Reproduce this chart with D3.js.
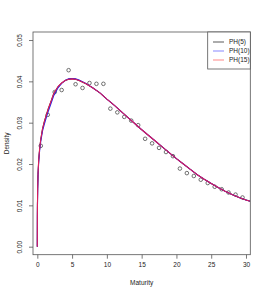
<!DOCTYPE html>
<html><head><meta charset="utf-8">
<script src="https://cdn.jsdelivr.net/npm/d3@7"></script>
<style>body{margin:0;background:#fff}svg{display:block}text{font-family:"Liberation Sans",Arial,sans-serif;fill:#222}</style>
</head><body><svg id="c" width="267" height="296"></svg>
<script>
// empirical points
const obsX = [0.5,1.5,2.5,3.5,4.5,5.5,6.5,7.5,8.5,9.5,10.5,11.5,12.5,13.5,14.5,15.5,16.5,17.5,18.5,19.5,20.5,21.5,22.5,23.5,24.5,25.5,26.5,27.5,28.5,29.5];
const obsY = [0.0244,0.0319,0.0374,0.0379,0.0427,0.0393,0.0384,0.0396,0.0394,0.0394,0.0334,0.0325,0.0314,0.0305,0.0294,0.0261,0.0250,0.0239,0.0229,0.0219,0.0189,0.0178,0.0171,0.0162,0.0154,0.0145,0.0139,0.0131,0.0126,0.0119];
// fitted densities
const curveX  = [0,0.01,0.02,0.05,0.1,0.2,0.35,0.5,0.75,1,1.3,1.6,2,2.35,3,3.5,4,4.5,5,5.5,6,7,8,9,10,11,12,13,14,14.8,16,17,18,19,20,21,22,23,24,25,26,27,28,29,30,30.6];
const ph5     = [0,0.0075,0.0100,0.0140,0.0175,0.0210,0.0240,0.0260,0.0285,0.0302,0.0319,0.0335,0.0353,0.0370,0.0388,0.0396,0.0402,0.0405,0.0406,0.0405,0.0402,0.0394,0.0384,0.0372,0.0357,0.0343,0.0328,0.0313,0.0298,0.0286,0.0269,0.0255,0.0241,0.0227,0.0213,0.0200,0.0187,0.0174,0.0163,0.0153,0.0143,0.0134,0.0126,0.0119,0.0113,0.0110];
const ph10    = [0,0.0070,0.0095,0.0135,0.0170,0.0205,0.0236,0.0255,0.0280,0.0296,0.0313,0.0329,0.0348,0.0365,0.0385,0.0395,0.0402,0.0406,0.0407,0.0406,0.0403,0.0395,0.0384,0.0372,0.0357,0.0343,0.0328,0.0313,0.0298,0.0286,0.0269,0.0255,0.0241,0.0227,0.0213,0.0200,0.0187,0.0174,0.0163,0.0153,0.0143,0.0134,0.0126,0.0119,0.0113,0.0110];
const ph15    = [0,0.0075,0.0100,0.0140,0.0175,0.0210,0.0240,0.0260,0.0285,0.0302,0.0319,0.0335,0.0353,0.0370,0.0388,0.0396,0.0402,0.0405,0.0406,0.0405,0.0402,0.0394,0.0384,0.0372,0.0357,0.0343,0.0328,0.0313,0.0298,0.0286,0.0269,0.0255,0.0241,0.0227,0.0213,0.0200,0.0187,0.0174,0.0163,0.0153,0.0143,0.0134,0.0126,0.0119,0.0113,0.0110];
const xTicks = [0,5,10,15,20,25,30];
const yTicks = [0.00,0.01,0.02,0.03,0.04,0.05];
const seriesNames = ["PH(5)","PH(10)","PH(15)"];

const svg = d3.select("#c");
const L=33, R=250.3, T=32, B=254.7;
const x = d3.scaleLinear().domain([-0.62,30.62]).range([L,R]);
const y = d3.scaleLinear().domain([-0.00194,0.05194]).range([B,T]);

const line = vals => d3.line().x((d,i)=>x(curveX[i])).y(d=>y(d))(vals);
const plotCol = ["#222","rgb(30,30,235)","rgb(220,30,90)"];
const legCol = ["rgba(0,0,0,0.55)","rgba(0,0,255,0.4)","rgba(255,0,0,0.4)"];

svg.append("defs").append("clipPath").attr("id","clp").append("rect").attr("x",L).attr("y",T).attr("width",R-L).attr("height",B-T);

// points
svg.append("g").selectAll("circle").data(obsX).join("circle")
  .attr("cx",d=>x(d)).attr("cy",(d,i)=>y(obsY[i])).attr("r",1.8)
  .attr("fill","none").attr("stroke","#444").attr("stroke-width",0.75);

const g = svg.append("g").attr("clip-path","url(#clp)");
[ph5,ph10,ph15].forEach((s,k)=>{
  g.append("path").attr("d",line(s)).attr("fill","none").attr("stroke",plotCol[k]).attr("stroke-width",k==0?1:1.1);
});

// box
svg.append("rect").attr("x",L).attr("y",T).attr("width",R-L).attr("height",B-T).attr("fill","none").attr("stroke","#555").attr("stroke-width",0.8);

// axes
const xa = svg.append("g").attr("transform",`translate(0,${B})`)
  .call(d3.axisBottom(x).tickValues(xTicks).tickSize(4).tickPadding(4).tickFormat(d3.format("d")));
const ya = svg.append("g").attr("transform",`translate(${L},0)`)
  .call(d3.axisLeft(y).tickValues(yTicks).tickSize(4).tickPadding(3).tickFormat(d3.format(".2f")));
[xa,ya].forEach(a=>{a.select(".domain").remove();a.selectAll("line").attr("stroke","#555").attr("stroke-width",0.8);a.selectAll("text").attr("font-size",6.5).attr("fill","#333").style("font-family","Liberation Sans, Arial, sans-serif");});
ya.selectAll(".tick text").attr("transform","rotate(-90)").attr("text-anchor","middle").attr("x",0).attr("y",-11).attr("dy","0");

svg.append("text").attr("x",(L+R)/2).attr("y",285).attr("text-anchor","middle").attr("font-size",6.5).text("Maturity");
svg.append("text").attr("transform",`translate(9,${(T+B)/2}) rotate(-90)`).attr("text-anchor","middle").attr("font-size",6.5).text("Density");

// legend
const lg = svg.append("g");
lg.append("rect").attr("x",207.7).attr("y",T).attr("width",R-207.7).attr("height",37).attr("fill","#fff").attr("stroke","#555").attr("stroke-width",0.8);
seriesNames.forEach((n,k)=>{
  const yy = 42+k*9;
  lg.append("line").attr("x1",213).attr("x2",224).attr("y1",yy).attr("y2",yy).attr("stroke",legCol[k]).attr("stroke-width",1.2);
  lg.append("text").attr("x",229).attr("y",yy+2.3).attr("font-size",6.5).text(n);
});
</script></body></html>
